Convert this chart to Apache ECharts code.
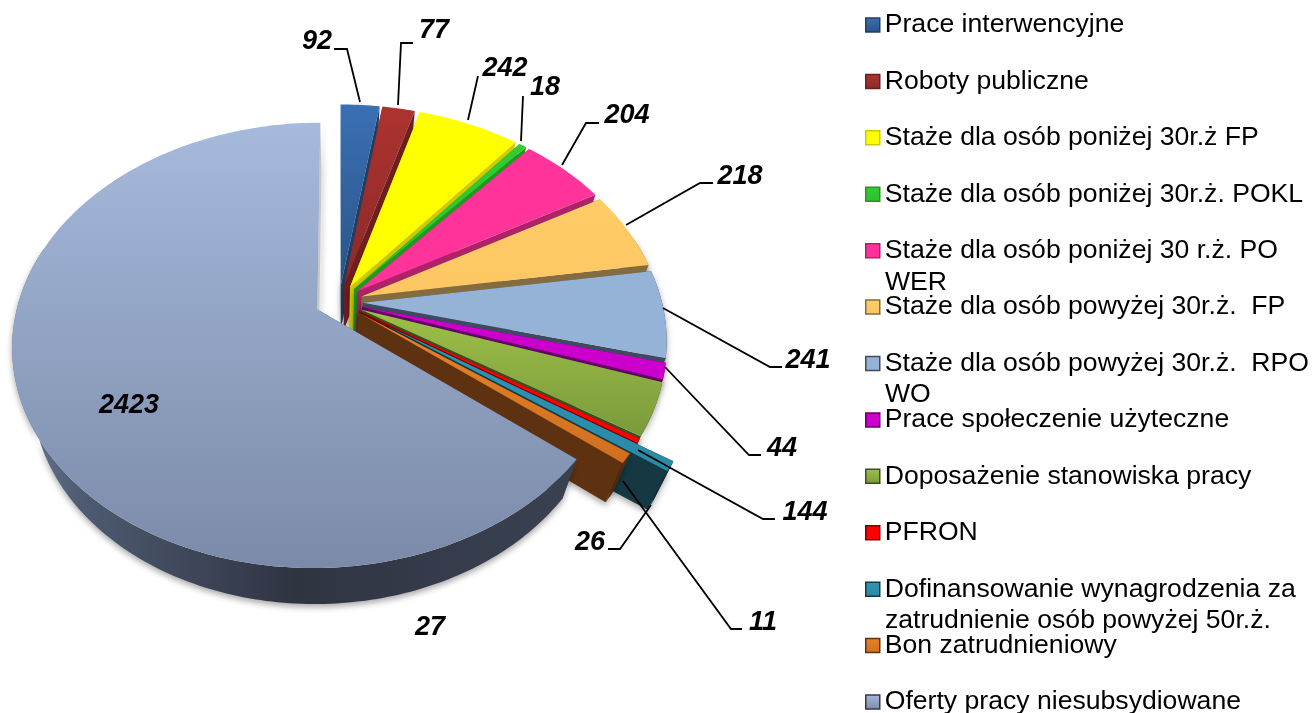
<!DOCTYPE html>
<html><head><meta charset="utf-8">
<style>html,body{margin:0;padding:0;background:#fff}#c{width:1314px;height:713px}</style>
<script src="https://cdn.jsdelivr.net/npm/echarts@6/dist/echarts.min.js"></script>
</head><body><div id="c"></div>
<script>
const categories = ["Prace interwencyjne","Roboty publiczne","Staże dla osób poniżej 30r.ż FP","Staże dla osób poniżej 30r.ż. POKL","Staże dla osób poniżej 30 r.ż. PO\nWER","Staże dla osób powyżej 30r.ż.  FP","Staże dla osób powyżej 30r.ż.  RPO\nWO","Prace społeczenie użyteczne","Doposażenie stanowiska pracy","PFRON","Dofinansowanie wynagrodzenia za\nzatrudnienie osób powyżej 50r.ż.","Bon zatrudnieniowy","Oferty pracy niesubsydiowane"];
const values = [92,77,242,18,204,218,241,44,144,11,26,27,2423];
const topLight = ["#3A70B4","#AD3330","#FFFF00","#33CC33","#FF3399","#FFCC66","#95B3D7","#CC00CC","#9DC049","#FF0000","#2E96B4","#E88228","#A6BADC"];
const topDark  = ["#2A5488","#8A2A28","#FFFF00","#2CC02C","#FF3399","#FDC663","#95B3D7","#CC00CC","#7A9A3A","#FF0000","#2A8AA6","#D07020","#7B8AA8"];
const wallColors = ["#1F3F66","#6E1F1D","#CFCB00","#1F9A1F","#AE2268","#846C3E","#3F4A60","#660066","#3B4E1E","#7A0000","#153843","#5E3210","#333A49"];
const explode = [.08,.08,.08,.08,.08,.08,.08,.08,.08,.08,.2,.08,.08];
// label text centres and leader paths (annotation layout, pixels)
const labelPos = [[317,42],[434,31],[505,69],[545,88],[627,116],[740,177],[808,361],[782,449],[805,513],[763,623],[590,543],[430,628],[129,406]];
const leaders = [
 [[360,102],[347,49],[334,49]],[[398,105],[401,43],[413,43]],[[468,120],[478,76]],[[521,141],[523,96]],
 [[562,165],[586,123],[599,123]],[[626,225],[700,183],[713,183]],[[663,308],[770,367],[782,367]],
 [[665,367],[749,455],[761,455]],[[638,450],[763,519],[775,519]],[[623,481],[731,629],[742,629]],
 [[651,505],[620,549],[608,549]],null,null];
const cx=339, cy=302, R=299, Rk=214.5, p=.16, depth=44, sx=.94, sy=.97;
const total = values.reduce((a,b)=>a+b,0);
const F = "Liberation Sans, Arial, sans-serif";
function proj(u,v){const w=1-p*v;return [cx+R*u/w, cy+Rk*v/w];}
function low(q){return [cx+(q[0]-cx)*sx, cy+depth+(q[1]-cy)*sy];}
function grad(a,b,x2,y2){return new echarts.graphic.LinearGradient(0,0,x2||0,y2===undefined?1:y2,[{offset:0,color:a},{offset:1,color:b}]);}
function sliceRange(i){let s=0;for(let k=0;k<i;k++)s+=values[k];return [s/total*2*Math.PI,(s+values[i])/total*2*Math.PI];}
const isBig = i=>values[i]===Math.max(...values);
function renderSlice(params,api){
  const i=params.seriesIndex,[a0,a1]=sliceRange(i),m=(a0+a1)/2,e=explode[i];
  const ex=e*Math.sin(m),ey=-e*Math.cos(m),apex=proj(ex,ey),arc=[],front=[];
  const n=Math.max(2,Math.ceil((a1-a0)/(Math.PI/180)));
  for(let k=0;k<=n;k++){const a=a0+(a1-a0)*k/n;const q=proj(ex+Math.sin(a),ey-Math.cos(a));arc.push(q);if(Math.cos(a)<.3)front.push(q);}
  const la=low(apex),lo=arc.map(low);
  const shadow={shadowBlur:6,shadowOffsetY:3,shadowColor:'rgba(0,0,0,.35)'};
  const wall=wallColors[i];
  const band=isBig(i)?new echarts.graphic.LinearGradient(0,0,1,0,[{offset:0,color:'#6A7A96'},{offset:.12,color:'#4E5B72'},{offset:.5,color:'#2F3441'},{offset:1,color:'#3A4252'}]):wall;
  const ch=[];
  ch.push({type:'polygon',silent:true,shape:{points:[apex,arc[0],lo[0],la]},style:{fill:wall}});
  if(front.length>1)ch.push({type:'polygon',silent:true,shape:{points:front.concat(front.map(low).reverse())},style:Object.assign({fill:band},shadow)});
  ch.push({type:'polygon',silent:true,shape:{points:[apex,arc[n],lo[n],la]},style:Object.assign({fill:isBig(i)?'#C4C7CC':wall},isBig(i)?{shadowBlur:5,shadowOffsetX:2,shadowColor:'rgba(0,0,0,.3)'}:shadow)});
  ch.push({type:'polygon',silent:true,shape:{points:[apex].concat(arc)},style:{fill:grad(topLight[i],topDark[i])}});
  return {type:'group',children:ch};
}
function renderLabel(params,api){
  const i=params.dataIndex,ch=[];
  if(leaders[i])ch.push({type:'polyline',silent:true,shape:{points:leaders[i]},style:{stroke:'#000',lineWidth:1.8,fill:null}});
  ch.push({type:'text',silent:true,style:{text:String(api.value(0)),x:labelPos[i][0],y:labelPos[i][1],align:'center',verticalAlign:'middle',font:'italic bold 27px '+F,fill:'#000'}});
  return {type:'group',children:ch};
}
const series=categories.map((name,i)=>({type:'custom',name,coordinateSystem:'none',silent:true,animation:false,clip:false,data:[[values[i]]],renderItem:renderSlice,itemStyle:{color:topLight[i]}}));
series.push({type:'custom',name:'labels',coordinateSystem:'none',silent:true,animation:false,data:values.map(v=>[v]),renderItem:renderLabel,z:5});
const pitch=56.42, top0=10, lh=30, fs=26.6;
const contLines=[];
categories.forEach((c,i)=>{const s=c.split('\n');if(s[1])contLines.push({type:'text',silent:true,left:885,top:top0+i*pitch+33,style:{text:s[1],font:fs+'px '+F,fill:'#000'}});});
const chart=echarts.init(document.getElementById('c'),null,{renderer:'canvas'});
chart.setOption({
  backgroundColor:'#fff',animation:false,
  legend:{orient:'vertical',left:865,top:top0,height:720,padding:0,itemWidth:14,itemHeight:14,itemGap:pitch-lh,selectedMode:false,align:'left',icon:'rect',
    textStyle:{fontFamily:F,fontSize:fs,color:'#000',lineHeight:lh},
    formatter:n=>n.split('\n')[0],
    data:categories.map((name,i)=>({name,itemStyle:{color:grad(topLight[i],topDark[i]),borderColor:wallColors[i],borderWidth:1.5}}))},
  graphic:contLines,
  series
});
</script></body></html>
